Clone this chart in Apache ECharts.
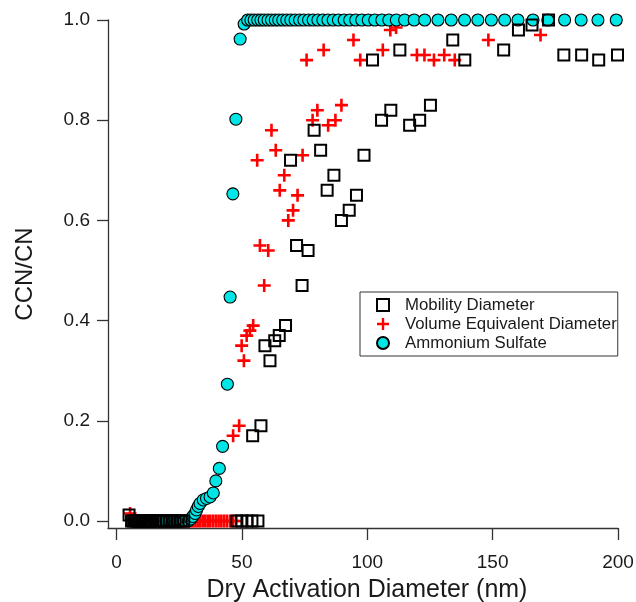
<!DOCTYPE html>
<html><head><meta charset="utf-8">
<script src="https://cdn.jsdelivr.net/npm/echarts@6/dist/echarts.min.js"></script>
<style>html,body{margin:0;padding:0;background:#fff}#c{width:636px;height:602px}</style>
</head><body><div id="c"></div>
<script>
// Mobility Diameter (open squares)
const mobilityD = [5.0, 6.0, 6.8, 7.6, 8.4, 9.2, 10.0, 10.9, 11.8, 12.7, 13.6, 14.6, 15.6, 16.6, 17.7, 18.8, 19.9, 21.0, 22.2, 23.4, 24.6, 25.8, 26.8,
  48.0, 50.0, 52.0, 54.0, 56.4,
  54.3, 57.6, 59.2, 61.2, 63.1, 64.9, 67.4, 69.4, 71.8, 74.0, 76.4, 78.8, 81.4, 84.0, 86.7, 89.7, 92.8, 95.7, 98.7,
  102.1, 105.7, 109.4, 113.0, 116.9, 120.9, 125.2, 134.1, 138.9, 154.4, 160.3, 165.7, 172.3, 178.4, 185.5, 192.3, 199.8];
const mobilityR = [0.012, 0, 0, 0, 0, 0, 0, 0, 0, 0, 0, 0, 0, 0, 0, 0, 0, 0, 0, 0, 0, 0, 0,
  0, 0, 0, 0, 0,
  0.17, 0.19, 0.35, 0.32, 0.36, 0.37, 0.39, 0.72, 0.55, 0.47, 0.54, 0.78, 0.74, 0.66, 0.69, 0.60, 0.62, 0.65, 0.73,
  0.92, 0.80, 0.82, 0.94, 0.79, 0.80, 0.83, 0.96, 0.92, 0.94, 0.98, 0.99, 1.0, 0.93, 0.93, 0.92, 0.93];

// Volume Equivalent Diameter (red crosses)
const volumeD = [5.4, 20.5, 21.3, 22.1, 22.9, 23.7, 24.5, 25.3, 26.1, 27.0, 27.9, 28.8, 29.7, 30.6, 31.5, 32.4, 33.4, 34.4, 35.4, 36.4, 37.4, 38.5, 39.6, 40.7, 41.8, 42.9, 44.0, 45.2, 46.4, 47.6,
  46.5, 48.9, 49.9, 50.8, 51.9, 53.2, 54.5, 56.1, 57.2, 58.9, 60.5, 61.8, 63.5, 65.1, 66.9, 68.5, 70.4, 72.2, 74.2,
  75.8, 78.2, 80.1, 82.6, 84.4, 87.3, 89.7, 94.5, 97.2, 106.2, 109.2, 111.5, 119.8, 122.8, 126.6, 130.7, 134.9, 148.3, 169.1];
const volumeR = [0.015, 0, 0, 0, 0, 0, 0, 0, 0, 0, 0, 0, 0, 0, 0, 0, 0, 0, 0, 0, 0, 0, 0, 0, 0, 0, 0, 0, 0, 0,
  0.17, 0.19, 0.35, 0.32, 0.37, 0.38, 0.39, 0.72, 0.55, 0.47, 0.54, 0.78, 0.74, 0.66, 0.69, 0.60, 0.62, 0.65, 0.73,
  0.92, 0.80, 0.82, 0.94, 0.79, 0.80, 0.83, 0.96, 0.92, 0.94, 0.98, 0.985, 0.93, 0.93, 0.92, 0.93, 0.92, 0.96, 0.97];

// Ammonium Sulfate (cyan circles)
const ammoniumD = [7.0, 7.5, 8.1, 8.7, 9.3, 10.0, 10.7, 11.5, 12.3, 13.2, 14.1, 15.1, 16.2, 17.3, 18.5, 19.8, 21.2, 22.6, 24.1, 25.6, 27.1, 28.6,
  29.6, 30.4, 31.3, 31.9, 32.6, 33.3, 34.6, 35.9, 37.3, 38.6, 39.6, 41.0, 42.3, 44.2, 45.3, 46.4, 47.6, 49.3, 50.9,
  52.3, 53.6, 54.9, 56.3, 57.6, 58.9, 60.4, 61.8, 63.3, 64.7, 66.3, 67.9, 69.5, 71.2, 73.0, 74.7, 76.6, 78.4, 80.3, 82.3, 84.3, 86.4, 88.5, 90.8,
  93.0, 95.4, 97.8, 100.4, 103.0, 105.8, 108.6, 111.6, 114.9, 118.7, 122.9, 128.2, 133.5, 138.8, 144.1, 149.5, 154.8, 160.1, 166.1, 172.0,
  178.7, 185.3, 192.0, 199.3];
const ammoniumR = [0, 0, 0, 0, 0, 0, 0, 0, 0, 0, 0, 0, 0, 0, 0, 0, 0, 0, 0, 0, 0, 0,
  0.004, 0.009, 0.015, 0.022, 0.029, 0.035, 0.042, 0.045, 0.048, 0.056, 0.080, 0.105, 0.149, 0.273, 0.447, 0.653, 0.802, 0.962, 0.992,
  1, 1, 1, 1, 1, 1, 1, 1, 1, 1, 1, 1, 1, 1, 1, 1, 1, 1, 1, 1, 1, 1, 1, 1,
  1, 1, 1, 1, 1, 1, 1, 1, 1, 1, 1, 1, 1, 1, 1, 1, 1, 1, 1, 1,
  1, 1, 1, 1];

const xTicks = [0, 50, 100, 150, 200];
const yTicks = [0, 0.2, 0.4, 0.6, 0.8, 1.0];

function pairs(d, r) { return d.map((v, i) => [v, r[i]]); }
const FONT = '"Liberation Sans", Arial, Helvetica, sans-serif';
const CROSS = 'path://M5.2,0H7.8V5.2H13V7.8H7.8V13H5.2V7.8H0V5.2H5.2Z';
const SQUARE = 'path://M0,0H10V10H0Z';
const AX = '#333333';
const TXT = '#1a1a1a';

const chart = echarts.init(document.getElementById('c'), null, { renderer: 'canvas' });
chart.setOption({
  animation: false,
  backgroundColor: '#ffffff',
  grid: { left: 108, right: 18, top: 20, bottom: 74, containLabel: false, outerBoundsMode: 'none' },
  xAxis: {
    type: 'value', min: -3.4, max: 200,
    name: 'Dry Activation Diameter (nm)', nameLocation: 'middle', nameGap: 50,
    nameTextStyle: { fontSize: 25, color: TXT, fontFamily: FONT, padding: [0, 0, 0, 8] },
    axisLine: { onZero: false, lineStyle: { color: AX, width: 1.3 } },
    axisTick: { show: true, inside: false, length: 12, customValues: xTicks, lineStyle: { color: AX, width: 1.3 } },
    axisLabel: { customValues: xTicks, fontSize: 19, color: TXT, fontFamily: FONT, margin: 25 },
    splitLine: { show: false }
  },
  yAxis: {
    type: 'value', min: -0.014, max: 1.0,
    name: 'CCN/CN', nameLocation: 'middle', nameGap: 71, nameRotate: 90,
    nameTextStyle: { fontSize: 24, color: TXT, fontFamily: FONT },
    axisLine: { onZero: false, lineStyle: { color: AX, width: 1.3 } },
    axisTick: { show: true, inside: false, length: 11, customValues: yTicks, lineStyle: { color: AX, width: 1.3 } },
    axisLabel: { customValues: yTicks, formatter: v => v.toFixed(1), fontSize: 19, color: TXT, fontFamily: FONT, margin: 18 },
    splitLine: { show: false }
  },
  legend: {
    left: 360, top: 292, orient: 'vertical',
    itemWidth: 34, itemHeight: 12, itemGap: 1,
    padding: [4, 1, 4, 16],
    borderColor: AX, borderWidth: 1, backgroundColor: '#ffffff',
    selectedMode: false,
    textStyle: { fontSize: 16.8, color: TXT, fontFamily: FONT, lineHeight: 18 },
    data: [
      { name: 'Mobility Diameter', icon: SQUARE },
      { name: 'Volume Equivalent Diameter', icon: CROSS },
      { name: 'Ammonium Sulfate', icon: 'circle' }
    ]
  },
  series: [
    {
      name: 'Volume Equivalent Diameter', type: 'scatter', clip: false,
      symbol: CROSS, symbolSize: 13,
      itemStyle: { color: '#ff0000', opacity: 1 },
      emphasis: { disabled: true },
      data: pairs(volumeD, volumeR)
    },
    {
      name: 'Ammonium Sulfate', type: 'scatter', clip: false,
      symbol: 'circle', symbolSize: 12,
      itemStyle: { color: '#00e6e6', borderColor: '#000000', borderWidth: 1.1, opacity: 1 },
      emphasis: { disabled: true },
      data: pairs(ammoniumD, ammoniumR)
    },
    {
      name: 'Mobility Diameter', type: 'scatter', clip: false,
      symbol: 'rect', symbolSize: 11,
      itemStyle: { color: 'rgba(0,0,0,0)', borderColor: '#000000', borderWidth: 2, opacity: 1 },
      emphasis: { disabled: true },
      data: pairs(mobilityD, mobilityR)
    }
  ]
});
</script>
</body></html>
